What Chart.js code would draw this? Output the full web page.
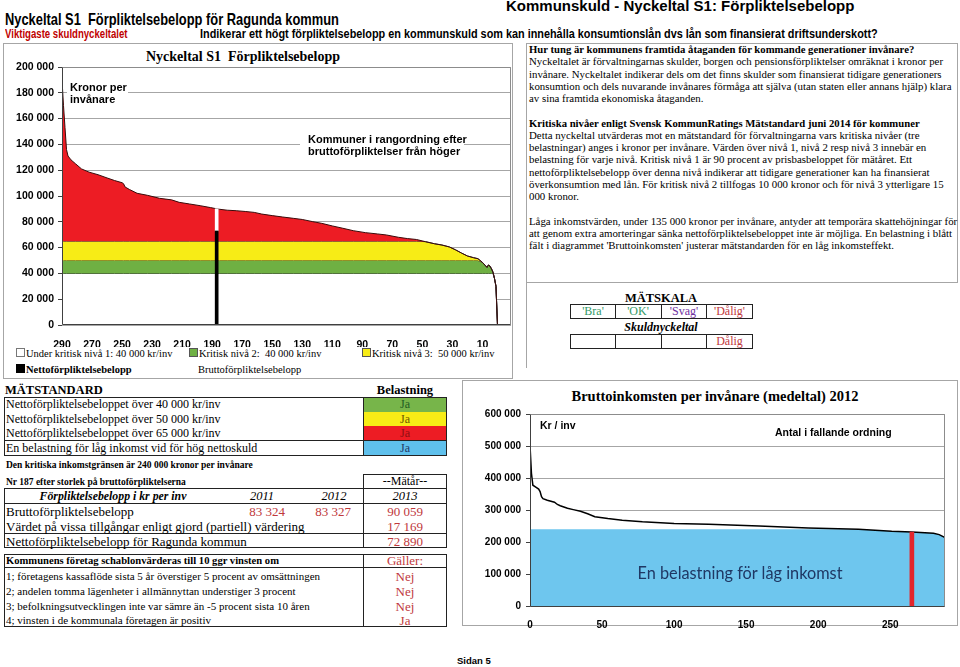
<!DOCTYPE html>
<html lang="sv">
<head>
<meta charset="utf-8">
<title>Kommunskuld - Nyckeltal S1</title>
<script src="https://cdn.jsdelivr.net/npm/chart.js@4.4.1/dist/chart.umd.min.js"></script>
<style>
  body { margin: 0; background: #fff; }
  #page { position: relative; width: 960px; height: 667px; overflow: hidden;
          font-family: "Liberation Serif", "Times New Roman", serif; color: #000; }
  .t { position: absolute; white-space: nowrap; }
  .hd { font-family: "Liberation Sans Narrow", "Arial Narrow", "Liberation Sans", sans-serif; font-weight: bold;
        transform-origin: 0 50%; }
  .sans { font-family: "Liberation Sans", Arial, sans-serif; font-weight: bold; }
  .box { position: absolute; box-sizing: border-box; border: 1px solid #222; }
  .frame { position: absolute; box-sizing: border-box; border: 1px solid #a6a6a6; }
  .vl { position: absolute; width: 1px; background: #222; }
  .hl { position: absolute; height: 1px; background: #222; }
  .fill { position: absolute; }
  .red { color: #c0383c; }
  .c { text-align: center; }
  canvas { position: absolute; }
  .lines { position: absolute; left: 529px; top: 43px; font-size: 10.85px; }
  .lines b { font-size: 10.7px; }
  .lines div { height: 12.25px; line-height: 12.25px; white-space: nowrap; }
  .sq { display: inline-block; width: 7px; height: 7px; border: 1px solid #555; margin-right: 1px; vertical-align: 0; }
  .note { position: absolute; background: #fff; font-family: "Liberation Sans", Arial, sans-serif;
          font-weight: bold; font-size: 11px; line-height: 11.7px; white-space: nowrap; }
</style>
</head>
<body>
<div id="page">

  <!-- page heading -->
  <div class="t hd" style="left:506px;top:-2px;font-size:15px;line-height:16px;">Kommunskuld - Nyckeltal S1: Förpliktelsebelopp</div>
  <div class="t hd" style="left:5px;top:10px;font-size:16.5px;line-height:18px;transform:scaleX(0.78);">Nyckeltal S1&nbsp; Förpliktelsebelopp för Ragunda kommun</div>
  <div class="t hd" style="left:5px;top:27px;font-size:12px;line-height:14px;color:#c00000;transform:scaleX(0.8);">Viktigaste skuldnyckeltalet</div>
  <div class="t hd" style="left:200px;top:27px;font-size:12px;line-height:14px;transform:scaleX(0.905);">Indikerar ett högt förpliktelsebelopp en kommunskuld som kan innehålla konsumtionslån dvs lån som finansierat driftsunderskott?</div>

  <!-- frames -->
  <div class="frame" style="left:3px;top:43px;width:510px;height:336px;"></div>
  <div class="frame" style="left:526px;top:43px;width:432px;height:240px;"></div>
  <div class="frame" style="left:526px;top:282px;width:1px;height:86px;border-width:0 0 0 1px;"></div>
  <div class="frame" style="left:462px;top:380px;width:496px;height:246px;"></div>

  <!-- top chart -->
  <div class="t c" style="left:0;width:486px;top:48.7px;line-height:16px;font-weight:bold;font-size:14px;">Nyckeltal S1&nbsp; Förpliktelsebelopp</div>
  <canvas id="debtChart" width="513" height="292" style="left:0;top:55px;"></canvas>
  <div class="note" style="left:67px;top:82px;width:58px;padding-left:3px;">Kronor per<br>invånare</div>
  <div class="note" style="left:300px;top:134px;width:156px;padding-left:8px;">Kommuner i rangordning efter<br>bruttoförpliktelser från höger</div>

  <div class="t" style="left:16px;top:347px;font-size:10.5px;line-height:14px;"><span class="sq" style="background:#fff;border-color:#777;"></span>Under kritisk nivå 1: 40 000 kr/inv</div>
  <div class="t" style="left:189px;top:347px;font-size:10.5px;line-height:14px;"><span class="sq" style="background:#6fb043;"></span>Kritisk nivå 2:&nbsp; 40 000 kr/inv</div>
  <div class="t" style="left:362px;top:347px;font-size:10.5px;line-height:14px;"><span class="sq" style="background:#f7ec16;"></span>Kritisk nivå 3:&nbsp; 50 000 kr/inv</div>
  <div class="t" style="left:16px;top:363px;font-size:10.5px;line-height:14px;font-weight:bold;"><span class="sq" style="background:#000;border-color:#000;"></span>Nettoförpliktelsebelopp</div>
  <div class="t" style="left:198px;top:363px;font-size:10.5px;line-height:14px;">Bruttoförpliktelsebelopp</div>

  <!-- right text -->
  <div class="lines">
    <div><b>Hur tung är kommunens framtida åtaganden för kommande generationer invånare?</b></div>
    <div>Nyckeltalet är förvaltningarnas skulder, borgen och pensionsförpliktelser omräknat i kronor per</div>
    <div>invånare. Nyckeltalet indikerar dels om det finns skulder som finansierat tidigare generationers</div>
    <div>konsumtion och dels nuvarande invånares förmåga att själva (utan staten eller annans hjälp) klara</div>
    <div>av sina framtida ekonomiska åtaganden.</div>
    <div></div>
    <div><b>Kritiska nivåer enligt Svensk KommunRatings Mätstandard juni 2014 för kommuner</b></div>
    <div>Detta nyckeltal utvärderas mot en mätstandard för förvaltningarna vars kritiska nivåer (tre</div>
    <div>belastningar) anges i kronor per invånare. Värden över nivå 1, nivå 2 resp nivå 3 innebär en</div>
    <div>belastning för varje nivå. Kritisk nivå 1 är 90 procent av prisbasbeloppet för mätåret. Ett</div>
    <div>nettoförpliktelsebelopp över denna nivå indikerar att tidigare generationer kan ha finansierat</div>
    <div>överkonsumtion med lån. För kritisk nivå 2 tillfogas 10 000 kronor och för nivå 3 ytterligare 15</div>
    <div>000 kronor.</div>
    <div></div>
    <div>Låga inkomstvärden, under 135 000 kronor per invånare, antyder att temporära skattehöjningar för</div>
    <div>att genom extra amorteringar sänka nettoförpliktelsebeloppet inte är möjliga. En belastning i blått</div>
    <div>fält i diagrammet 'Bruttoinkomsten' justerar mätstandarden för en låg inkomsteffekt.</div>
  </div>

  <!-- mätskala -->
  <div class="t c" style="left:611px;width:100px;top:290.5px;line-height:14px;font-weight:bold;font-size:12.5px;">MÄTSKALA</div>
  <div class="box" style="left:570px;top:304px;width:183px;height:15px;border-width:1.5px;"></div>
  <div class="vl" style="left:615px;top:304px;height:15px;"></div>
  <div class="vl" style="left:661px;top:304px;height:15px;"></div>
  <div class="vl" style="left:706px;top:304px;height:15px;"></div>
  <div class="t c" style="left:570px;width:46px;top:304px;line-height:15px;font-size:12px;color:#339966;">'Bra'</div>
  <div class="t c" style="left:615px;width:46px;top:304px;line-height:15px;font-size:12px;color:#339966;">'OK'</div>
  <div class="t c" style="left:661px;width:46px;top:304px;line-height:15px;font-size:12px;color:#7030a0;">'Svag'</div>
  <div class="t c" style="left:706px;width:47px;top:304px;line-height:15px;font-size:12px;color:#c0383c;">'Dålig'</div>
  <div class="t c" style="left:600px;width:122px;top:320px;line-height:14px;font-weight:bold;font-style:italic;font-size:12px;">Skuldnyckeltal</div>
  <div class="box" style="left:570px;top:334px;width:183px;height:15px;border-width:1.5px;"></div>
  <div class="vl" style="left:615px;top:334px;height:15px;"></div>
  <div class="vl" style="left:661px;top:334px;height:15px;"></div>
  <div class="vl" style="left:706px;top:334px;height:15px;"></div>
  <div class="t c red" style="left:706px;width:47px;top:334px;line-height:15px;font-size:12px;">Dålig</div>

  <!-- mätstandard -->
  <div class="t" style="left:5px;top:382px;line-height:16px;font-weight:bold;font-size:12.5px;">MÄTSTANDARD</div>
  <div class="t c" style="left:363px;width:84px;top:383px;line-height:14px;font-weight:bold;font-size:12.5px;">Belastning</div>
  <div class="fill" style="left:363px;top:397px;width:84px;height:14.5px;background:#77b54a;"></div>
  <div class="fill" style="left:363px;top:411.5px;width:84px;height:14.5px;background:#f7ec16;"></div>
  <div class="fill" style="left:363px;top:426px;width:84px;height:14.5px;background:#ed1c24;"></div>
  <div class="fill" style="left:363px;top:440.5px;width:84px;height:14.5px;background:#5fc0ec;"></div>
  <div class="box" style="left:4px;top:397px;width:443px;height:44px;"></div>
  <div class="box" style="left:4px;top:440px;width:443px;height:15.5px;border-width:1.5px;"></div>
  <div class="vl" style="left:363px;top:397px;height:58px;"></div>
  <div class="t" style="left:6px;top:397px;line-height:14.5px;font-size:12px;">Nettoförpliktelsebeloppet över 40 000 kr/inv</div>
  <div class="t" style="left:6px;top:411.5px;line-height:14.5px;font-size:12px;">Nettoförpliktelsebeloppet över 50 000 kr/inv</div>
  <div class="t" style="left:6px;top:426px;line-height:14.5px;font-size:12px;">Nettoförpliktelsebeloppet över 65 000 kr/inv</div>
  <div class="t" style="left:6px;top:440.5px;line-height:14.5px;font-size:12px;">En belastning för låg inkomst vid för hög nettoskuld</div>
  <div class="t c" style="left:363px;width:84px;top:397px;line-height:14.5px;font-size:12px;color:#1e5c22;">Ja</div>
  <div class="t c" style="left:363px;width:84px;top:411.5px;line-height:14.5px;font-size:12px;color:#6b5800;">Ja</div>
  <div class="t c" style="left:363px;width:84px;top:426px;line-height:14.5px;font-size:12px;color:#8c0f12;">Ja</div>
  <div class="t c" style="left:363px;width:84px;top:440.5px;line-height:14.5px;font-size:12px;color:#1f3864;">Ja</div>

  <div class="t" style="left:6px;top:459px;line-height:12px;font-weight:bold;font-size:9.5px;">Den kritiska inkomstgränsen är 240 000 kronor per invånare</div>

  <!-- förpliktelsebelopp table -->
  <div class="t" style="left:6px;top:476px;line-height:12px;font-weight:bold;font-size:9.5px;">Nr 187 efter storlek på bruttoförpliktelserna</div>
  <div class="box" style="left:363px;top:474px;width:84px;height:15px;"></div>
  <div class="t c" style="left:363px;width:84px;top:474px;line-height:15px;font-size:12px;">--Mätår--</div>
  <div class="box" style="left:4px;top:488px;width:443px;height:60px;border-width:1.5px;"></div>
  <div class="hl" style="left:4px;top:503px;width:443px;"></div>
  <div class="hl" style="left:4px;top:533px;width:443px;"></div>
  <div class="vl" style="left:363px;top:488px;height:60px;"></div>
  <div class="t c" style="left:4px;width:218px;top:488.5px;line-height:15px;font-weight:bold;font-style:italic;font-size:11.8px;">Förpliktelsebelopp i kr per inv</div>
  <div class="t c" style="left:232px;width:60px;top:488.5px;line-height:15px;font-style:italic;font-size:12.5px;">2011</div>
  <div class="t c" style="left:304px;width:60px;top:488.5px;line-height:15px;font-style:italic;font-size:12.5px;">2012</div>
  <div class="t c" style="left:363px;width:84px;top:488.5px;line-height:15px;font-style:italic;font-size:12.5px;">2013</div>
  <div class="t" style="left:6px;top:504px;line-height:15px;font-size:13px;">Bruttoförpliktelsebelopp</div>
  <div class="t c red" style="left:237px;width:60px;top:504px;line-height:15px;font-size:13px;">83 324</div>
  <div class="t c red" style="left:303px;width:60px;top:504px;line-height:15px;font-size:13px;">83 327</div>
  <div class="t c red" style="left:363px;width:84px;top:504px;line-height:15px;font-size:13px;">90 059</div>
  <div class="t" style="left:6px;top:518.5px;line-height:15px;font-size:13px;">Värdet på vissa tillgångar enligt gjord (partiell) värdering</div>
  <div class="t c red" style="left:363px;width:84px;top:518.5px;line-height:15px;font-size:13px;">17 169</div>
  <div class="t" style="left:6px;top:533.5px;line-height:15px;font-size:13px;">Nettoförpliktelsebelopp för Ragunda kommun</div>
  <div class="t c red" style="left:363px;width:84px;top:533.5px;line-height:15px;font-size:13px;">72 890</div>

  <!-- företag table -->
  <div class="box" style="left:4px;top:554px;width:443px;height:73px;border-width:1.5px;"></div>
  <div class="hl" style="left:4px;top:567px;width:443px;"></div>
  <div class="vl" style="left:363px;top:554px;height:73px;"></div>
  <div class="t" style="left:6px;top:554px;line-height:13px;font-weight:bold;font-size:10.6px;">Kommunens företag schablonvärderas till 10 ggr vinsten om</div>
  <div class="t c red" style="left:363px;width:84px;top:554px;line-height:13px;font-size:13px;">Gäller:</div>
  <div class="t" style="left:6px;top:569px;line-height:15px;font-size:11px;">1; företagens kassaflöde sista 5 år överstiger 5 procent av omsättningen</div>
  <div class="t" style="left:6px;top:584px;line-height:15px;font-size:11px;">2; andelen tomma lägenheter i allmännyttan understiger 3 procent</div>
  <div class="t" style="left:6px;top:599px;line-height:15px;font-size:11px;">3; befolkningsutvecklingen inte var sämre än -5 procent sista 10 åren</div>
  <div class="t" style="left:6px;top:612.5px;line-height:15px;font-size:11px;">4; vinsten i de kommunala företagen är positiv</div>
  <div class="t c red" style="left:363px;width:84px;top:569px;line-height:15px;font-size:13px;">Nej</div>
  <div class="t c red" style="left:363px;width:84px;top:584px;line-height:15px;font-size:13px;">Nej</div>
  <div class="t c red" style="left:363px;width:84px;top:599px;line-height:15px;font-size:13px;">Nej</div>
  <div class="t c red" style="left:363px;width:84px;top:612.5px;line-height:15px;font-size:13px;">Ja</div>

  <!-- bottom chart -->
  <div class="t c" style="left:565px;width:300px;top:387.7px;line-height:16px;font-weight:bold;font-size:14.5px;">Bruttoinkomsten per invånare (medeltal) 2012</div>
  <canvas id="incomeChart" width="490" height="226" style="left:462px;top:403px;"></canvas>
  <div class="t sans" style="left:540px;top:419px;line-height:12px;font-size:10.5px;">Kr / inv</div>
  <div class="t sans" style="left:775px;top:426px;line-height:12px;font-size:10.5px;">Antal i fallande ordning</div>
  <div class="t c" style="left:590px;width:300px;top:562px;line-height:22px;font-family:Lato,'Open Sans',sans-serif;font-size:16.3px;color:#1f3864;">En belastning för låg inkomst</div>

  <div class="t sans" style="left:457px;top:655px;line-height:12px;font-size:9.5px;">Sidan 5</div>
</div>

<script>
// Nyckeltal S1 - bruttoförpliktelser per invånare, kommuner i rangordning
const rankPos = [290, 289, 288, 287, 286, 284, 281, 277, 272, 266, 260, 255, 250, 249, 248,
  245, 240, 233, 225, 217, 212, 205, 198, 191, 188, 187, 185, 180, 174, 168, 162, 157, 150,
  143, 136, 130, 123, 117, 110, 103, 96, 88, 80, 74, 66, 60, 54, 48, 42, 37, 32, 28, 24, 20,
  16, 13, 10, 8, 7, 6, 5, 4, 3, 2, 1, 0];
const grossDebt = [190000, 170000, 153000, 136000, 131000, 128000, 125000, 121000, 118500,
  116500, 114000, 112000, 110300, 109500, 107000, 105000, 102100, 100500, 98200, 97000, 95100,
  93800, 92500, 91000, 90300, 90059, 89700, 89000, 88600, 88000, 87300, 86000, 84800, 83700,
  82700, 81800, 80100, 78800, 76800, 75000, 73100, 71600, 70600, 69800, 68000, 67000, 66300,
  64600, 63000, 62000, 60500, 58300, 55800, 53500, 52200, 51400, 48500, 46000, 44700, 46500,
  45600, 43600, 41000, 36100, 30000, 0];
const rankTicks = [290, 270, 250, 230, 210, 190, 170, 150, 130, 110, 90, 70, 50, 30, 10];

// kritiska nivåer (kr/inv)
const level1 = 40000;
const level2 = 50000;
const level3 = 65000;

// Ragunda
const ragundaRank = 187;
const ragundaGross = 90059;
const ragundaNet = 72890;

// Bruttoinkomsten per invånare 2012, fallande ordning
const incomeRank = [0, 1, 2, 4, 6, 7, 8, 9, 12, 17, 19, 21, 26, 30, 35, 40, 45, 54, 64, 78,
  100, 124, 159, 193, 228, 251, 265, 280, 284, 288];
const grossIncome = [502000, 415000, 378000, 372000, 366000, 358000, 342000, 336000, 331000,
  325000, 318000, 314000, 306000, 302000, 297000, 289000, 280000, 274400, 269200, 264000,
  259000, 256000, 250800, 244600, 240600, 234500, 232300, 228300, 224000, 214800];
const incomeTicks = [0, 50, 100, 150, 200, 250];
const incomeLimit = 240000;
const ragundaIncomeRank = 265;
const ragundaIncome = 232300;

const fmt = v => String(v).replace(/\B(?=(\d{3})+(?!\d))/g, ' ');
const pts = (xs, ys, cap) => ys.map((v, i) => ({ x: xs[i], y: cap === undefined ? v : Math.min(v, cap) }));
const tickFont = { family: 'Liberation Sans', weight: 'bold', size: 10.5 };

// plot area edges: grey top/right, dark axis lines left/bottom
const edge = {
  id: 'edge',
  afterDatasetsDraw(chart) {
    const { ctx, chartArea: a } = chart;
    const l = Math.round(a.left) + 0.5, r = Math.round(a.right) - 0.5;
    const t = Math.round(a.top) + 0.5, b = Math.round(a.bottom) - 0.5;
    ctx.save();
    ctx.lineWidth = 1;
    ctx.strokeStyle = '#8c8c8c';
    ctx.beginPath(); ctx.moveTo(l, t); ctx.lineTo(r, t); ctx.lineTo(r, b); ctx.stroke();
    ctx.strokeStyle = '#404040';
    ctx.beginPath(); ctx.moveTo(l, t); ctx.lineTo(l, b); ctx.lineTo(r, b); ctx.stroke();
    ctx.restore();
  }
};

const baseOptions = {
  responsive: false,
  animation: false,
  plugins: { legend: { display: false }, tooltip: { enabled: false } },
  elements: { point: { radius: 0 }, line: { tension: 0 } }
};

new Chart(document.getElementById('debtChart'), {
  type: 'line',
  data: {
    datasets: [
      { type: 'bar', data: [{ x: ragundaRank, y: ragundaNet }], backgroundColor: '#000', barThickness: 3, grouped: false },
      { type: 'bar', data: [{ x: ragundaRank, y: [ragundaNet, ragundaGross] }], backgroundColor: '#fff', barThickness: 3, grouped: false },
      { data: pts(rankPos, grossDebt), backgroundColor: '#ed1c24', borderColor: '#3a0a0a', borderWidth: 1, fill: '+1' },
      { data: pts(rankPos, grossDebt, level3), backgroundColor: '#f7ec16', borderColor: '#333', borderWidth: 1, fill: '+1' },
      { data: pts(rankPos, grossDebt, level2), backgroundColor: '#6fb043', borderColor: '#333', borderWidth: 1, fill: '+1' },
      { data: pts(rankPos, grossDebt, level1), backgroundColor: '#fff', borderColor: '#222', borderWidth: 1, fill: 'origin' }
    ]
  },
  options: {
    ...baseOptions,
    layout: { padding: { top: 12, right: 2, left: 0, bottom: 0 } },
    scales: {
      x: {
        type: 'linear', reverse: true, min: -9, max: 290, offset: false,
        afterBuildTicks: s => { s.ticks = rankTicks.map(v => ({ value: v })); },
        afterFit: s => { s.height = 22; },
        grid: { display: false }, border: { display: false },
        ticks: { font: tickFont, color: '#000', padding: 6, maxRotation: 0, autoSkip: false }
      },
      y: {
        min: 0, max: 200000,
        afterFit: s => { s.width = 62; },
        grid: { color: '#a6a6a6', tickLength: 4, tickColor: '#404040' },
        border: { display: false },
        ticks: { stepSize: 20000, callback: fmt, font: tickFont, color: '#000', padding: 4 }
      }
    }
  },
  plugins: [edge]
});

new Chart(document.getElementById('incomeChart'), {
  type: 'line',
  data: {
    datasets: [
      { type: 'bar', data: [{ x: ragundaIncomeRank, y: ragundaIncome }], backgroundColor: '#e3262c', barThickness: 4, grouped: false },
      { data: pts(incomeRank, grossIncome), borderColor: '#000', borderWidth: 1.5,
        fill: { target: { value: incomeLimit }, above: '#fff', below: 'rgba(0,0,0,0)' } },
      { data: pts(incomeRank, grossIncome), borderWidth: 0, backgroundColor: '#6ec6ee', fill: 'origin' }
    ]
  },
  options: {
    ...baseOptions,
    layout: { padding: { top: 8.5, right: 7, left: 0, bottom: 0 } },
    scales: {
      x: {
        type: 'linear', min: 0, max: 288, offset: false,
        afterBuildTicks: s => { s.ticks = incomeTicks.map(v => ({ value: v })); },
        afterFit: s => { s.height = 22.5; },
        grid: { display: false }, border: { display: false },
        ticks: { font: { ...tickFont, size: 10 }, color: '#000', padding: 4.5, maxRotation: 0, autoSkip: false }
      },
      y: {
        min: 0, max: 600000,
        afterFit: s => { s.width = 68; },
        grid: { color: '#a6a6a6', tickLength: 4, tickColor: '#404040' },
        border: { display: false },
        ticks: { stepSize: 100000, callback: fmt, font: { ...tickFont, size: 10 }, color: '#000', padding: 5 }
      }
    }
  },
  plugins: [edge]
});
</script>
</body>
</html>
